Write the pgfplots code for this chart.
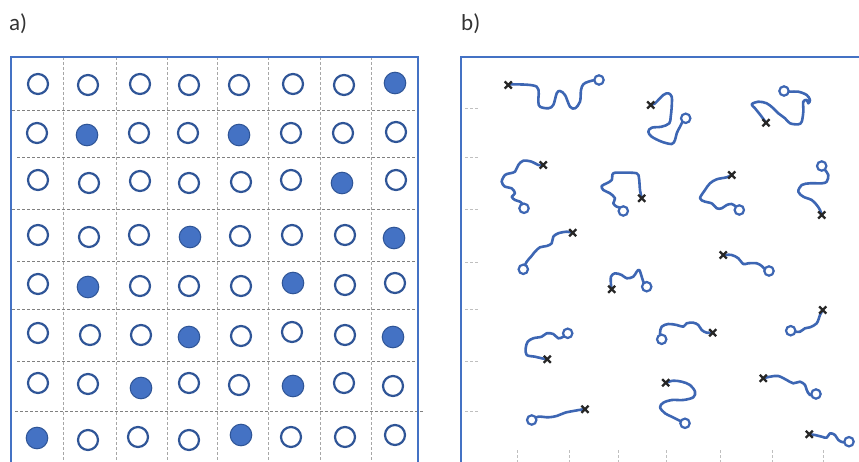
\documentclass[border=0pt]{standalone}
\usepackage{pgfplots}
\pgfplotsset{compat=1.18}
\usepackage{fontspec}
\setmainfont{Carlito}
\definecolor{cblue}{HTML}{4472C4}
\definecolor{wblue}{HTML}{3D66B3}
\definecolor{cdark}{HTML}{2F5597}
\definecolor{gridgray}{HTML}{A6A6A6}
\definecolor{tickgray}{HTML}{BFBFBF}
\begin{document}
\begin{tikzpicture}
\begin{axis}[
 scale only axis, width=859pt, height=462pt,
 xmin=0, xmax=859, ymin=0, ymax=462, y dir=reverse,
 hide axis, clip=true, unbounded coords=jump,
]
% bounding corners
\addplot[draw=none] coordinates {(0,0) (859,462)};
% ---------- panel a grid ----------
\addplot[gridgray, line width=0.8pt, densely dashed] coordinates {
(63,57) (63,470) (nan,nan) (116,57) (116,470) (nan,nan) (167,57) (167,470) (nan,nan)
(217,57) (217,470) (nan,nan) (268,57) (268,470) (nan,nan) (320,57) (320,470) (nan,nan)
(371,57) (371,470)};
\addplot[gray, line width=0.9pt, densely dashed] coordinates {
(12,110) (418,110) (nan,nan) (17,157) (418,157) (nan,nan) (12,209) (418,209) (nan,nan)
(17,261) (418,261) (nan,nan) (12,309) (418,309) (nan,nan) (17,361) (418,361) (nan,nan)
(15,411) (423,411)};
% panel a border
\addplot[cblue, line width=2.2pt] coordinates {(11,475) (11,57) (418,57) (418,475)};
% open circles
\addplot[only marks, mark=*, mark size=10pt, mark options={draw=cdark, fill=white, line width=2.2pt}] coordinates {
(38,84) (88,85) (140,84) (189,85) (239,85) (293,84) (344,85)
(37,133) (139,133) (188,133) (291,133) (343,133) (396,132)
(38,180) (89,183) (140,181) (189,183) (241,182) (291,180) (396,180)
(38,235) (89,237) (139,235) (240,236) (292,235) (345,235)
(38,284) (140,286) (189,286) (241,286) (345,285) (395,283)
(38,333) (90,335) (141,335) (241,336) (292,332) (345,335)
(38,383) (88,384) (189,383) (239,385) (344,383) (393,386)
(88,440) (138,437) (189,440) (291,437) (345,437) (395,435)};
% filled circles
\addplot[only marks, mark=*, mark size=10.8pt, mark options={draw=cdark, fill=cblue, line width=1pt}] coordinates {
(395,83) (87,135) (239,135) (342,183) (190,237) (394,238) (88,287) (293,283)
(189,337) (393,337) (141,388) (293,386) (37,438) (241,435)};
% ---------- panel b ----------
\addplot[cblue, line width=2.2pt] coordinates {(461,475) (461,57) (870,57)};
% ticks
\addplot[tickgray, line width=0.8pt, densely dashed] coordinates {
(465,108) (478,108) (nan,nan) (465,157) (478,157) (nan,nan) (465,209) (478,209) (nan,nan)
(465,262) (478,262) (nan,nan) (465,309) (478,309) (nan,nan) (465,361) (478,361) (nan,nan)
(465,411) (478,411)};
\addplot[tickgray, line width=0.8pt, densely dashed] coordinates {
(517,450) (517,462) (nan,nan) (569,450) (569,462) (nan,nan) (618,450) (618,462) (nan,nan)
(666,450) (666,462) (nan,nan) (720,450) (720,462) (nan,nan) (772,450) (772,462) (nan,nan)
(823,450) (823,462)};
\pgfplotsset{walk/.style={wblue, line width=2.6pt, smooth, tension=0.55, line join=round, line cap=round}}
% A
\addplot[walk] coordinates {(508.3,85) (513.3,84.3) (536.7,86.7) (538.3,101.7) (540,106.7) (548.3,108.3) (553.3,105) (556.7,93.3) (560,91) (565,95) (570,106.7) (575,108.3) (580,101.7) (581,90) (583.3,84.3) (588.3,81.7) (595,80) (599,80)};
% B
\addplot[walk] coordinates {(650.7,105) (655,103.3) (663.3,95) (668.3,93.3) (671.7,96.7) (671.7,106.7) (670.7,116.7) (669.3,123.3) (661.7,126.7) (651.7,127.7) (648.3,131.7) (651.7,136.7) (661.7,141.7) (671.7,144) (675,140) (676.7,133.3) (680,126.7) (682.7,121.7) (685.7,118.3)};
% C
\addplot[walk] coordinates {(766,122.7) (761.7,116.7) (755,108.3) (751.7,104.3) (758.3,101.7) (766.7,103.3) (773.3,108.3) (778.3,113.3) (785,118.3) (790,123.3) (798.3,124.3) (801.7,121.7) (803.3,111.7) (803.3,101.7) (806.7,100) (808.3,103.3) (810,100) (806.7,95) (798.3,91.7) (790,91.7) (784,91)};
% D
\addplot[walk] coordinates {(543.3,165) (538.3,165) (531.7,161.7) (523.3,160.7) (518.3,165) (515,171.7) (510,173.3) (505,175) (501.7,181.7) (505,186.7) (511.7,188.3) (515,193.3) (511.7,196.7) (515,200) (520,201.7) (523.3,205) (524,208.3)};
% E
\addplot[walk] coordinates {(641.7,198.3) (640,190) (639,178.3) (636.7,173.3) (623.3,172.7) (613.3,173.3) (611.7,180) (606.7,183.3) (601.7,186) (603.3,190) (610,193.3) (615,198.3) (613.3,203.3) (616.7,206.7) (621.7,208.3) (623.3,211)};
% F
\addplot[walk] coordinates {(731.7,175) (726.7,177.3) (716.7,179.3) (710,183.3) (705,190) (700,198.3) (705,201.7) (711.7,203.3) (716.7,208.3) (721.7,208.3) (726.7,205) (731.7,204) (736,206.7) (739.3,210)};
% G
\addplot[walk] coordinates {(821.7,166) (825,170) (828.3,175) (826.7,181.7) (821.7,183.3) (810,183.3) (801.7,185) (798.3,191.7) (803.3,196.7) (811.7,200) (816.7,205) (820,210) (821.7,215)};
% H
\addplot[walk] coordinates {(572.7,232.7) (566.7,231.7) (558.3,233.3) (553.3,236.7) (551.7,243.3) (546.7,246) (540,247.3) (535,251.7) (531,256.7) (526.7,261.7) (523.3,269.3)};
% I
\addplot[walk] coordinates {(611.7,289.3) (611,285) (611,276.7) (615,273.3) (621.7,275) (626.7,278.3) (633.3,276.7) (636.7,271.7) (639.3,270) (641.7,276.7) (643.3,281.7) (646.7,286.7)};
% J
\addplot[walk] coordinates {(723.3,255) (731.7,255) (738.3,258.3) (743.3,264) (748.3,263.3) (756.7,263.3) (761.7,266) (765,269.3) (769,271)};
% K
\addplot[walk] coordinates {(822.7,310) (820,315) (816.7,323.3) (810,327.3) (805,328.3) (800,331.7) (795,331.7) (790.7,330.7)};
% L
\addplot[walk] coordinates {(567.7,333.3) (563.3,336.7) (558.3,338.3) (553.3,334) (546.7,333.3) (541.7,336.7) (533.3,338.3) (527.7,341.7) (525.7,348.3) (526.7,355) (535,356.7) (541.7,358.3) (547.3,359.3)};
% M
\addplot[walk] coordinates {(661.7,339.3) (660,333.3) (661.7,326.7) (668.3,324) (676.7,325) (683.3,326.7) (686.7,323.3) (693.3,322.7) (698.3,325) (701.7,330) (706.7,332.7) (712.7,332.7)};
% O
\addplot[walk] coordinates {(665.7,382.7) (673.3,380.7) (681.7,381.7) (690,385) (695,391.7) (693.3,397.3) (683.3,400) (671.7,400) (663.3,402.7) (660,407.3) (665,413.3) (671.7,416.7) (678.3,420) (685,423.3)};
% P
\addplot[walk] coordinates {(531.7,420) (538.3,416.7) (548.3,417.3) (556.7,416) (565,412.7) (575,410.7) (583.3,409.3) (585,409.3)};
% N
\addplot[walk] coordinates {(763.3,378.3) (770,376.7) (778.3,376) (786.7,380) (793.3,383.3) (800,381.7) (805,385) (806.7,390) (810,395) (816,394)};
% Q
\addplot[walk] coordinates {(809.3,434.3) (815,435) (821.7,436.7) (826.7,437.7) (830,433.3) (835,435) (838.3,440) (843.3,442.3) (849,441.7)};
% circle ends
\addplot[only marks, mark=*, mark size=4.7pt, mark options={draw=wblue, fill=white, line width=2.2pt}] coordinates {
(599,80) (685.7,118.3) (784,91) (524,208.3) (623.3,211) (739.3,210) (821.7,166)
(523.3,269.3) (646.7,286.7) (769,271) (790.7,330.7) (567.7,333.3) (661.7,339.3)
(685,423.3) (531.7,420) (816,394) (849,441.7)};
% cross starts
\addplot[only marks, mark=x, mark size=5pt, mark options={draw=black!85, line width=2.3pt}] coordinates {
(508.3,85) (650.7,105) (766,122.7) (543.3,165) (641.7,198.3) (731.7,175) (821.7,215)
(572.7,232.7) (611.7,289.3) (723.3,255) (822.7,310) (547.3,359.3) (712.7,332.7)
(665.7,382.7) (585,409.3) (763.3,378.3) (809.3,434.3)};
\node[anchor=west, font=\fontsize{23}{27}\selectfont, text=black!80, inner sep=0pt] at (axis cs:9,24) {a)};
\node[anchor=west, font=\fontsize{23}{27}\selectfont, text=black!80, inner sep=0pt] at (axis cs:461,24) {b)};
\end{axis}
\end{tikzpicture}
\end{document}
